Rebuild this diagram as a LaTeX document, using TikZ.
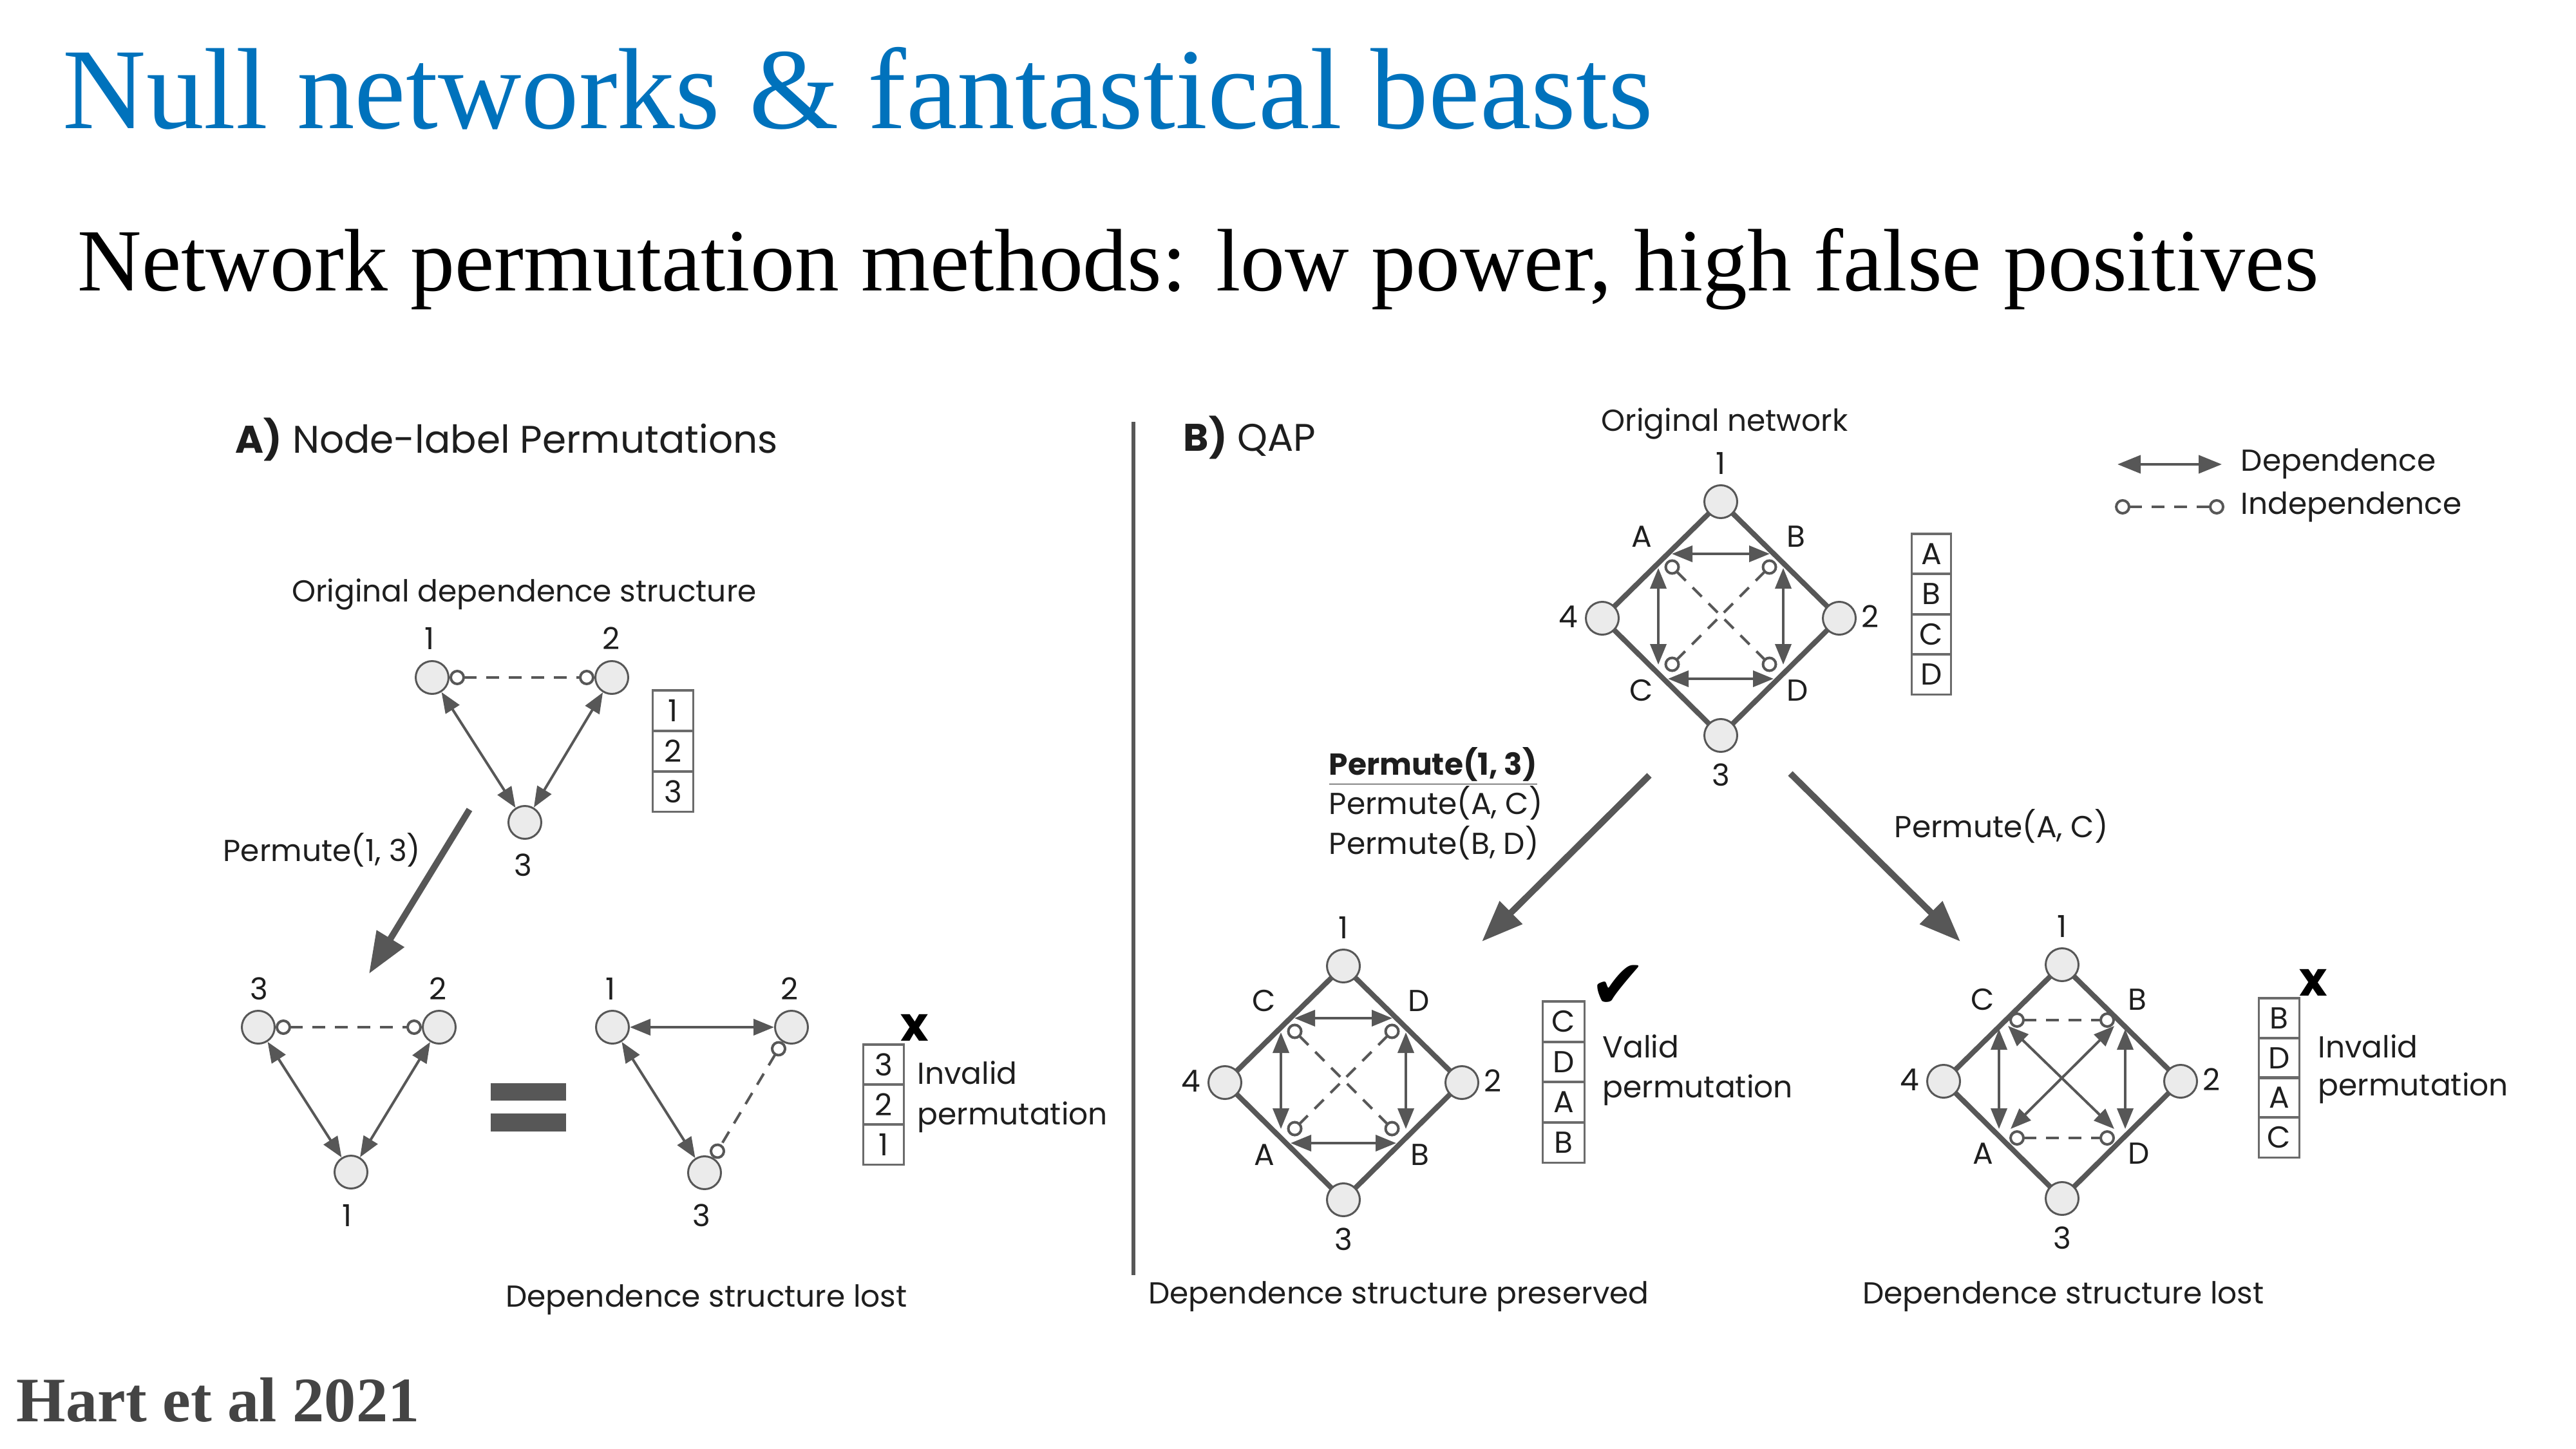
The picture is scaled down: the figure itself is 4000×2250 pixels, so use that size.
\documentclass[tikz,border=0pt]{standalone}
\usepackage{fontspec}
\setmainfont{Liberation Serif}
\newfontfamily\dfont{Poppins}
\newfontfamily\symfont{DejaVu Sans}
\usetikzlibrary{arrows.meta,backgrounds}
\definecolor{titleblue}{RGB}{0,114,188}
\definecolor{ink}{HTML}{575757}
\definecolor{nodefill}{HTML}{EBEBEB}
\definecolor{boxline}{HTML}{6B6B6B}
\definecolor{txt}{HTML}{1E1E1E}
\definecolor{citegray}{HTML}{444444}

% Four-node diamond network: nodes 1-4, the thick rim, and the edge letters
\newcommand\qapframe[5]{%
  \node[nd] (#1n1) at (0,-181) {};
  \node[nd] (#1n2) at (184,0) {};
  \node[nd] (#1n3) at (0,182) {};
  \node[nd] (#1n4) at (-184,0) {};
  \begin{scope}[on background layer]
    \draw[rim] (#1n1.center) -- (#1n2.center) -- (#1n3.center) -- (#1n4.center) -- cycle;
  \end{scope}
  \node[lbl,anchor=base] (#1l1) at (0,-224) {1};
  \node[lbl,anchor=base] (#1l2) at (232,14) {2};
  \node[lbl,anchor=base] (#1l3) at (0,260) {3};
  \node[lbl,anchor=base] (#1l4) at (-237,14) {4};
  \node[lbl,anchor=base] (#1tl) at (-123,-111) {#2};
  \node[lbl,anchor=base] (#1tr) at (117,-111) {#3};
  \node[lbl,anchor=base] (#1bl) at (-123,128) {#4};
  \node[lbl,anchor=base] (#1br) at (119,128) {#5};
}

% Dependence pattern of the original network: rim pairs dependent, diagonals independent
\newcommand\qapkept[1]{%
  \coordinate (#1ha) at (-76,-100); \coordinate (#1hb) at (76,-100);
  \coordinate (#1hc) at (-82,94);   \coordinate (#1hd) at (82,94);
  \coordinate (#1va) at (-97,-78);  \coordinate (#1vb) at (-97,72);
  \coordinate (#1vc) at (97,-78);   \coordinate (#1vd) at (97,72);
  \coordinate (#1da) at (-84,-88);  \coordinate (#1db) at (84,80);
  \coordinate (#1dc) at (84,-88);   \coordinate (#1dd) at (-84,80);
  \draw[depedge] (#1ha) -- (#1hb);
  \draw[depedge] (#1hc) -- (#1hd);
  \draw[depedge] (#1va) -- (#1vb);
  \draw[depedge] (#1vc) -- (#1vd);
  \draw[indedge] (#1da) -- (#1db);
  \draw[indedge] (#1dc) -- (#1dd);
}

\begin{document}
\begin{tikzpicture}[x=0.1mm,y=-0.1mm,
  lbl/.style={font=\dfont\fontsize{13.4}{16}\selectfont, text=txt, inner sep=0pt},
  paneltitle/.style={font=\dfont\fontsize{17}{20}\selectfont, text=txt, inner sep=0pt, anchor=base west},
  nd/.style={circle, draw=ink, fill=nodefill, line width=0.3mm, minimum size=5.1mm, inner sep=0pt},
  rim/.style={draw=ink, line width=0.8mm},
  depedge/.style={draw=ink, line width=0.4mm, {Triangle[length=3.2mm,width=2.5mm]}-{Triangle[length=3.2mm,width=2.5mm]}},
  indedge/.style={draw=ink, line width=0.4mm, dash pattern=on 2mm off 1.5mm, {Circle[open,length=2.4mm,width=2.4mm]}-{Circle[open,length=2.4mm,width=2.4mm]}},
  bigarrow/.style={draw=ink, line width=1mm, -{Triangle[length=6.4mm,width=4.8mm]}},
  stackcell/.style={draw=boxline, line width=0.35mm, minimum width=6.3mm, minimum height=6.25mm, inner sep=0pt, font=\dfont\fontsize{13.4}{16}\selectfont, text=txt},
  badmark/.style={font=\dfont\bfseries\fontsize{21}{22}\selectfont, text=black, inner sep=0pt},
]
\useasboundingbox (0,0) rectangle (4000,2250);

% ---------- headings ----------
\node[anchor=base west, font=\fontsize{51}{60}\selectfont, text=titleblue, inner sep=0pt] (title) at (97,200) {Null networks \& fantastical beasts};
\node[anchor=base west, font=\fontsize{39.2}{46}\selectfont, text=black, inner sep=0pt] (subtitle) at (120,452) {Network permutation methods: low power, high false positives};
\node[anchor=base west, font=\bfseries\fontsize{28}{32}\selectfont, text=citegray, inner sep=0pt] (cite) at (25,2207) {Hart et al 2021};

% ---------- panel A: node-label permutations ----------
\node[paneltitle] (hA) at (365,703) {\textbf{A)} Node-label Permutations};
\node[lbl,anchor=base] (capA) at (814,934) {Original dependence structure};

\node[nd] (t1) at (671,1052) {};
\node[nd] (t2) at (950,1052) {};
\node[nd] (t3) at (815,1277) {};
\node[lbl,anchor=base] (lt1) at (667,1008) {1};
\node[lbl,anchor=base] (lt2) at (949,1008) {2};
\node[lbl,anchor=base] (lt3) at (812,1360) {3};
\draw[indedge] (t1) -- (t2);
\draw[depedge] (t1) -- (t3);
\draw[depedge] (t2) -- (t3);

\node[stackcell] (ca1) at (1045,1103) {1};
\node[stackcell] (ca2) at (1045,1166) {2};
\node[stackcell] (ca3) at (1045,1229) {3};

\node[lbl,anchor=base west] (pA) at (346,1337) {Permute(1, 3)};
\coordinate (aAs) at (729,1257);
\coordinate (aAe) at (573,1512);
\draw[bigarrow] (aAs) -- (aAe);

\node[nd] (p3) at (401,1595) {};
\node[nd] (p2) at (682,1595) {};
\node[nd] (p1) at (545,1820) {};
\node[lbl,anchor=base] (lp3) at (402,1552) {3};
\node[lbl,anchor=base] (lp2) at (680,1552) {2};
\node[lbl,anchor=base] (lp1) at (539,1904) {1};
\draw[indedge] (p3) -- (p2);
\draw[depedge] (p3) -- (p1);
\draw[depedge] (p2) -- (p1);

\fill[ink] (762,1682) rectangle (879,1709);
\fill[ink] (762,1729) rectangle (879,1757);

\node[nd] (q1) at (951,1595) {};
\node[nd] (q2) at (1229,1595) {};
\node[nd] (q3) at (1094,1821) {};
\node[lbl,anchor=base] (lq1) at (948,1552) {1};
\node[lbl,anchor=base] (lq2) at (1226,1552) {2};
\node[lbl,anchor=base] (lq3) at (1089,1904) {3};
\draw[depedge] (q1) -- (q2);
\draw[depedge] (q1) -- (q3);
\draw[indedge] (q2) -- (q3);

\node[stackcell] (cb1) at (1372,1653) {3};
\node[stackcell] (cb2) at (1372,1715) {2};
\node[stackcell] (cb3) at (1372,1777) {1};
\node[badmark] (xA) at (1420,1596) {x};
\node[lbl,anchor=base west] (invA1) at (1424,1683) {Invalid};
\node[lbl,anchor=base west] (invA2) at (1424,1746) {permutation};
\node[lbl,anchor=base] (lostA) at (1097,2029) {Dependence structure lost};

% divider between the panels
\coordinate (divT) at (1760,655);
\coordinate (divB) at (1760,1980);
\draw[ink, line width=0.6mm] (divT) -- (divB);

% ---------- panel B: QAP ----------
\node[paneltitle] (hB) at (1837,700) {\textbf{B)} QAP};
\node[lbl,anchor=base] (capB) at (2678,669) {Original network};

% legend
\coordinate (lg1a) at (3288,721);
\coordinate (lg1b) at (3450,721);
\draw[depedge, {Triangle[length=3.6mm,width=2.8mm]}-{Triangle[length=3.6mm,width=2.8mm]}] (lg1a) -- (lg1b);
\node[lbl,anchor=base west] (lgt1) at (3479,731) {Dependence};
\coordinate (lg2a) at (3284,787);
\coordinate (lg2b) at (3454,787);
\draw[indedge] (lg2a) -- (lg2b);
\node[lbl,anchor=base west] (lgt2) at (3479,798) {Independence};

% original network
\begin{scope}[shift={(2672,960)}]
  \qapframe{o}{A}{B}{C}{D}
  \qapkept{o}
\end{scope}
\node[stackcell, minimum width=6.1mm] (co1) at (2999,860) {A};
\node[stackcell, minimum width=6.1mm] (co2) at (2999,922) {B};
\node[stackcell, minimum width=6.1mm] (co3) at (2999,985) {C};
\node[stackcell, minimum width=6.1mm] (co4) at (2999,1047) {D};

% permutation arrows
\coordinate (aBs) at (2561,1204);
\coordinate (aBe) at (2301,1462);
\draw[bigarrow] (aBs) -- (aBe);
\coordinate (aCs) at (2780,1201);
\coordinate (aCe) at (3044,1462);
\draw[bigarrow] (aCs) -- (aCe);

\node[lbl,anchor=base west] (pB1) at (2063,1203) {\underline{\textbf{Permute(1, 3)}}};
\node[lbl,anchor=base west] (pB2) at (2063,1264) {Permute(A, C)};
\node[lbl,anchor=base west] (pB3) at (2063,1326) {Permute(B, D)};
\node[lbl,anchor=base west] (pC1) at (2941,1300) {Permute(A, C)};

% valid permutation
\begin{scope}[shift={(2086,1681)}]
  \qapframe{v}{C}{D}{A}{B}
  \qapkept{v}
\end{scope}
\node[stackcell, minimum width=6.5mm] (cv1) at (2428,1586) {C};
\node[stackcell, minimum width=6.5mm] (cv2) at (2428,1649) {D};
\node[stackcell, minimum width=6.5mm] (cv3) at (2428,1711) {A};
\node[stackcell, minimum width=6.5mm] (cv4) at (2428,1774) {B};
\node[font=\symfont\fontsize{30}{32}\selectfont, text=black, inner sep=0pt] (okmark) at (2513,1532) {✔};
\node[lbl,anchor=base west] (val1) at (2488,1642) {Valid};
\node[lbl,anchor=base west] (val2) at (2488,1704) {permutation};
\node[lbl,anchor=base] (keptB) at (2172,2024) {Dependence structure preserved};

% invalid permutation
\begin{scope}[shift={(3202,1679)}]
  \qapframe{w}{C}{B}{A}{D}
  \coordinate (wha) at (-82,-95); \coordinate (whb) at (82,-95);
  \coordinate (whc) at (-82,88);  \coordinate (whd) at (82,88);
  \coordinate (wva) at (-98,-81); \coordinate (wvb) at (-98,74);
  \coordinate (wvc) at (98,-81);  \coordinate (wvd) at (98,74);
  \coordinate (wda) at (-84,-86); \coordinate (wdb) at (81,74);
  \coordinate (wdc) at (81,-86);  \coordinate (wdd) at (-80,74);
  \draw[indedge] (wha) -- (whb);
  \draw[indedge] (whc) -- (whd);
  \draw[depedge] (wva) -- (wvb);
  \draw[depedge] (wvc) -- (wvd);
  \draw[depedge] (wda) -- (wdb);
  \draw[depedge] (wdc) -- (wdd);
\end{scope}
\node[stackcell] (cw1) at (3539,1581) {B};
\node[stackcell] (cw2) at (3539,1643) {D};
\node[stackcell] (cw3) at (3539,1704) {A};
\node[stackcell] (cw4) at (3539,1766) {C};
\node[badmark] (xB) at (3592,1526) {x};
\node[lbl,anchor=base west] (inv1) at (3599,1642) {Invalid};
\node[lbl,anchor=base west] (inv2) at (3599,1701) {permutation};
\node[lbl,anchor=base] (lostB) at (3204,2024) {Dependence structure lost};

\end{tikzpicture}
\end{document}
